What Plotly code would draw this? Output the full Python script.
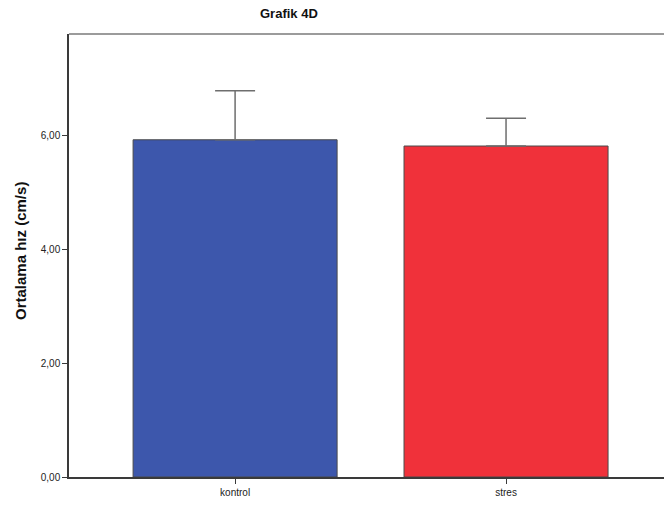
import plotly.graph_objects as go

# Mean speed per group with upper error bar
groups = ["kontrol", "stres"]
means = [5.93, 5.82]
errors = [0.86, 0.49]
bar_colors = ["#3D57AC", "#F0313A"]
y_ticks = [0, 2, 4, 6]

W, H = 664, 505
ml, mr, mt, mb = 69, 0, 34, 28

fig = go.Figure()
fig.add_trace(go.Bar(
    x=groups,
    y=means,
    width=0.753,
    marker=dict(color=bar_colors, line=dict(color="#4a4a4a", width=1)),
    error_y=dict(
        type="data", array=errors, arrayminus=[0] * len(errors),
        symmetric=False, color="#6e6e6e", thickness=1.5, width=20,
    ),
    showlegend=False,
))

fig.update_layout(
    width=W, height=H,
    margin=dict(l=ml, r=mr, t=mt, b=mb),
    plot_bgcolor="white", paper_bgcolor="white",
    separators=",.",
    font=dict(family="Liberation Sans, Arial, sans-serif", size=10, color="#222"),
    bargap=0.25,
)

fig.update_xaxes(
    range=[-0.613, 1.583],
    showline=True, linecolor="#3a3a3a", linewidth=1.5,
    ticks="outside", ticklen=5, tickcolor="#3a3a3a",
    showgrid=False, zeroline=False,
    tickfont=dict(size=10),
)
fig.update_yaxes(
    range=[0, 7.79],
    tickvals=y_ticks, tickformat=".2f",
    showline=True, linecolor="#3a3a3a", linewidth=1.5,
    ticks="outside", ticklen=5, tickcolor="#3a3a3a",
    showgrid=False, zeroline=False,
    tickfont=dict(size=10),
)

# top frame line (no right border)
fig.add_shape(type="line", xref="paper", yref="paper",
              x0=0, x1=1, y0=1, y1=1,
              line=dict(color="#7a7a7a", width=1.5))

pw = W - ml - mr
ph = H - mt - mb
fig.add_annotation(
    text="<b>Grafik 4D</b>", xref="paper", yref="paper",
    x=(289 - ml) / pw, y=1 + (mt - 13) / ph,
    showarrow=False, font=dict(size=13, color="#111"),
    xanchor="center", yanchor="middle",
)
fig.add_annotation(
    text="<b>Ortalama hız (cm/s)</b>", xref="paper", yref="paper",
    x=-(ml - 20) / pw, y=1 - (251 - mt) / ph,
    showarrow=False, textangle=-90, font=dict(size=15, color="#111"),
    xanchor="center", yanchor="middle",
)

fig.write_html("out.html")
